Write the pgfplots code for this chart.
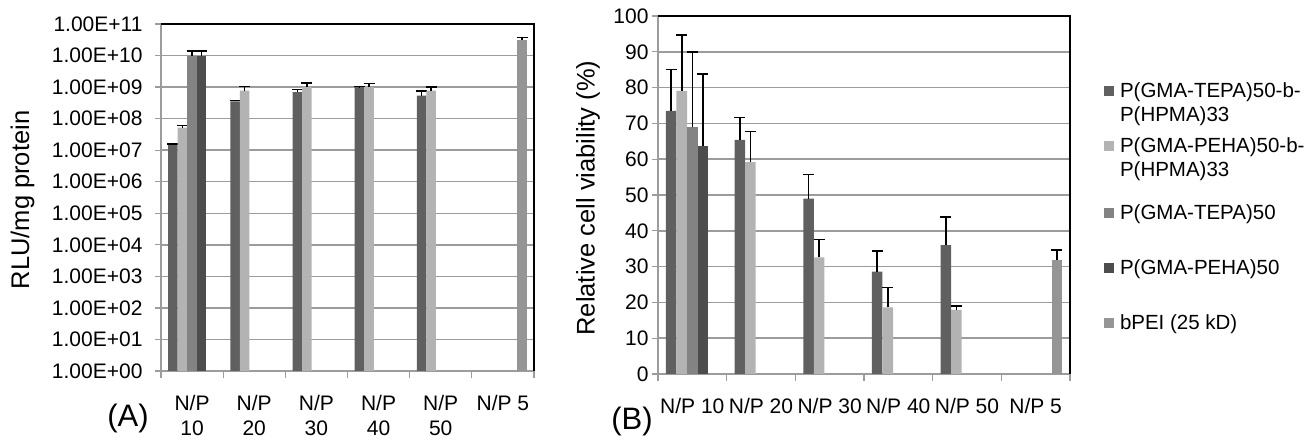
\documentclass[border=0pt]{standalone}
\usepackage{fontspec}
\setmainfont{Liberation Sans}
\usepackage{pgfplots}
\pgfplotsset{compat=1.18}

\definecolor{sone}{HTML}{606060}
\definecolor{stwo}{HTML}{B3B3B3}
\definecolor{sthree}{HTML}{838383}
\definecolor{sfour}{HTML}{4D4D4D}
\definecolor{sfive}{HTML}{959595}
\definecolor{gridgray}{HTML}{9C9C9C}

\newcommand{\twolines}[2]{\begin{tabular}[t]{@{}l@{}}#1\\#2\end{tabular}}

\pgfplotsset{
  np chart/.style={
    scale only axis,
    anchor=south west,
    xmin=-0.5, xmax=5.5,
    xtick={0,...,5},
    minor xtick={-0.5,0.5,...,5.5},
    major x tick style={draw=none},
    tick align=outside,
    major tick length=6pt,
    minor tick length=7pt,
    yminorticks=false,
    ymajorgrids=true,
    grid style={gridgray, line width=1.5pt},
    axis x line*=bottom,
    axis y line*=left,
    axis line style={gridgray, line width=1.5pt, -},
    tick style={gridgray, line width=1.2pt},
    tick label style={font=\fontsize{21}{25}\selectfont},
    /pgf/number format/assume math mode=true,
    xticklabel style={yshift=-15pt},
    every axis y label/.style={rotate=90, anchor=center, font=\fontsize{25.5}{30}\selectfont},
    error bars/y dir=plus,
    error bars/y explicit,
    error bars/error bar style={black, line width=1.5pt},
    error bars/error mark options={black, rotate=90, mark size=5.5pt, line width=1.5pt},
    every axis plot/.append style={ybar, bar width=0.1538, bar shift=0, draw=none},
    after end axis/.code={
      \draw[black, line width=1.5pt] (rel axis cs:0,1) -- (rel axis cs:1,1) -- (rel axis cs:1,0);
    },
  },
}

\begin{document}
\begin{tikzpicture}
\useasboundingbox (0pt,0pt) rectangle (1306pt,441pt);

% (A) transfection efficiency; bars sit at category -0.3077, -0.1538, 0, +0.1538, +0.3077
\begin{axis}[
  np chart,
  at={(161pt,70pt)},
  width=373pt, height=347pt,
  ymode=log,
  ymin=1, ymax=1e11,
  ytick={1,1e1,1e2,1e3,1e4,1e5,1e6,1e7,1e8,1e9,1e10,1e11},
  yticklabels={1.00E+00,1.00E+01,1.00E+02,1.00E+03,1.00E+04,1.00E+05,1.00E+06,1.00E+07,1.00E+08,1.00E+09,1.00E+10,1.00E+11},
  yticklabel style={xshift=-9pt},
  xticklabels={{N/P\\10},{N/P\\20},{N/P\\30},{N/P\\40},{N/P\\50},{N/P 5}},
  xticklabel style={align=center},
  ylabel={RLU/mg protein},
  every axis y label/.append style={at={(axis description cs:-0.3713,0.4928)}},
]
\addplot[fill=sone] coordinates {
  (-0.3077,1.5e7) +- (0,0.05e7)
  (0.6923,3.5e8) +- (0,0.3e8)
  (1.6923,6.9e8) +- (0,1.4e8)
  (2.6923,1.0e9) +- (0,0.03e9)
  (3.6923,5.4e8) +- (0,2.2e8)
};
\addplot[fill=stwo] coordinates {
  (-0.1538,5.2e7) +- (0,0.8e7)
  (0.8462,7.7e8) +- (0,2.8e8)
  (1.8462,1.0e9) +- (0,0.35e9)
  (2.8462,1.0e9) +- (0,0.3e9)
  (3.8462,7.7e8) +- (0,2.3e8)
};
\addplot[fill=sthree] coordinates {
  (0,1.0e10) +- (0,0.4e10)
};
\addplot[fill=sfour] coordinates {
  (0.1538,1.0e10) +- (0,0.4e10)
};
\addplot[fill=sfive] coordinates {
  (5.3077,3.2e10) +- (0,0.5e10)
};
\end{axis}

% (B) cell viability
\begin{axis}[
  np chart,
  at={(658pt,67pt)},
  width=412pt, height=358pt,
  ymin=0, ymax=100,
  ytick={0,10,...,100},
  xticklabels={N/P 10,N/P 20,N/P 30,N/P 40,N/P 50,N/P 5},
  ylabel={Relative cell viability (\%)},
  every axis y label/.append style={at={(axis description cs:-0.170,0.4916)}},
  legend style={
    at={(1.0825,0.8338)}, anchor=north west,
    draw=none, fill=none, inner sep=0pt, outer sep=0pt,
    row sep=0pt, column sep=6pt,
    nodes={inner sep=0pt},
    font=\fontsize{20.5}{24}\selectfont,
  },
  legend cell align=left,
]
\addplot[fill=sone,
  legend image code/.code={\fill[sone] (0pt,7pt) rectangle (10pt,17pt);}] coordinates {
  (-0.3077,73.5) +- (0,11.6)
  (0.6923,65.4) +- (0,6.3)
  (1.6923,49.0) +- (0,6.7)
  (2.6923,28.6) +- (0,5.8)
  (3.6923,36.0) +- (0,7.8)
};
\addlegendentry[text height=22.5pt, text depth=32.5pt]{\twolines{P(GMA-TEPA)50-b-}{P(HPMA)33}}
\addplot[fill=stwo,
  legend image code/.code={\fill[stwo] (0pt,7pt) rectangle (10pt,17pt);}] coordinates {
  (-0.1538,79.1) +- (0,15.6)
  (0.8462,59.2) +- (0,8.5)
  (1.8462,32.6) +- (0,5.0)
  (2.8462,18.6) +- (0,5.5)
  (3.8462,17.9) +- (0,1.1)
};
\addlegendentry[text height=22.5pt, text depth=32.5pt]{\twolines{P(GMA-PEHA)50-b-}{P(HPMA)33}}
\addplot[fill=sthree,
  legend image code/.code={\fill[sthree] (0pt,-5pt) rectangle (10pt,5pt);}] coordinates {
  (0,68.9) +- (0,21.0)
};
\addlegendentry[text height=34.5pt, text depth=20.5pt]{P(GMA-TEPA)50}
\addplot[fill=sfour,
  legend image code/.code={\fill[sfour] (0pt,-5pt) rectangle (10pt,5pt);}] coordinates {
  (0.1538,63.7) +- (0,20.1)
};
\addlegendentry[text height=34.5pt, text depth=20.5pt]{P(GMA-PEHA)50}
\addplot[fill=sfive,
  legend image code/.code={\fill[sfive] (0pt,-5pt) rectangle (10pt,5pt);}] coordinates {
  (5.3077,31.8) +- (0,2.8)
};
\addlegendentry[text height=34.5pt, text depth=20.5pt]{bPEI (25 kD)}
\end{axis}

\node[font=\fontsize{31}{36}\selectfont] at (128pt,23pt) {(A)};
\node[font=\fontsize{31}{36}\selectfont] at (632pt,20pt) {(B)};
\end{tikzpicture}
\end{document}
